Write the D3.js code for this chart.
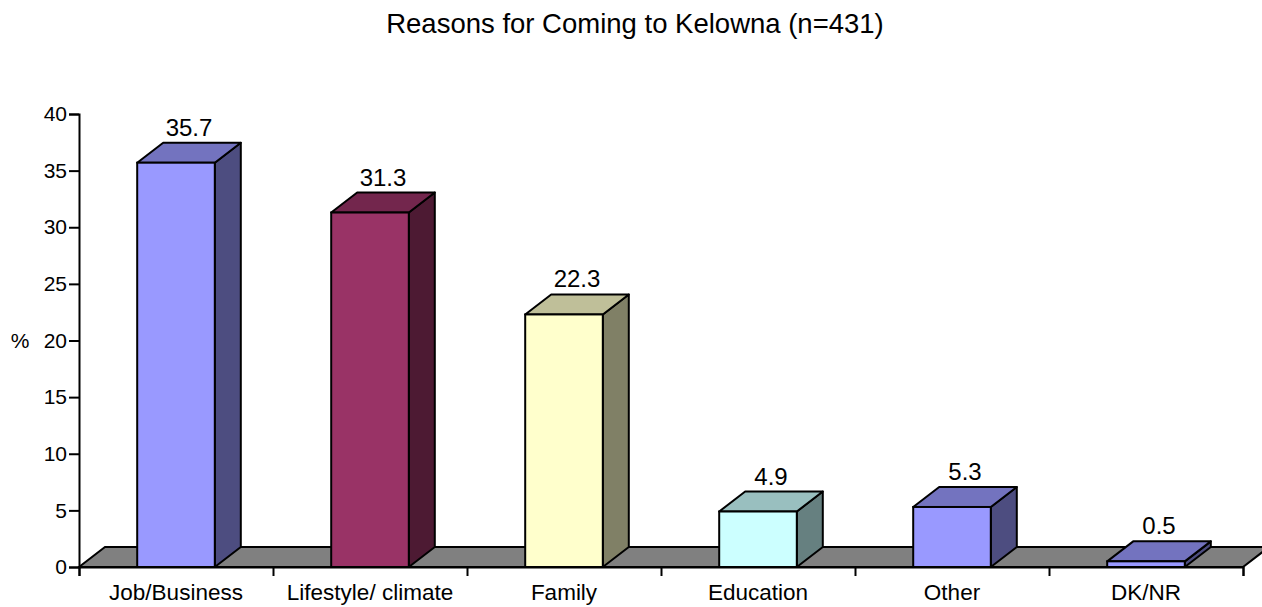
<!DOCTYPE html>
<html>
    <head>
        <script src="https://d3js.org/d3.v7.js"></script>
        <style>
            body{
                margin: 0;
                background: white;
            }
            text{
                font-family: 'Liberation Sans', Arial, sans-serif;
                fill: black;
            }
        </style>
    </head>
    <body>
        <div class='graph'>
            <script>
                const categories = ['Job/Business', 'Lifestyle/ climate', 'Family', 'Education', 'Other', 'DK/NR']
                const values = [35.7, 31.3, 22.3, 4.9, 5.3, 0.5]
                const frontColours = ['#9999FF', '#993366', '#FFFFCC', '#CCFFFF', '#9999FF', '#9999FF']
                const yTicks = [0, 5, 10, 15, 20, 25, 30, 35, 40]

                const w = 1262
                const h = 607
                const plotLeft = 79, plotRight = 1243, plotTop = 114, plotBottom = 567
                const depthX = 26, depthY = -20

                const svg = d3.select('.graph')
                        .append('svg')
                        .attr('width', w)
                        .attr('height', h)

                const x = d3.scaleBand()
                            .domain(categories)
                            .range([plotLeft, plotRight])
                            .paddingInner(0.6)
                            .paddingOuter(0.3)

                const y = d3.scaleLinear()
                            .domain([0, 40])
                            .range([plotBottom, plotTop])

                const shade = (c, k) => {
                    const col = d3.rgb(c)
                    return d3.rgb(col.r * k, col.g * k, col.b * k).formatHex()
                }

                // floor
                svg.append('path')
                    .attr('d', 'M' + plotLeft + ',' + plotBottom + 'L' + (plotLeft + depthX) + ',' + (plotBottom + depthY) +
                               'L' + (plotRight + depthX) + ',' + (plotBottom + depthY) + 'L' + plotRight + ',' + plotBottom + 'Z')
                    .style('fill', '#808080')
                    .style('stroke', 'black')
                    .style('stroke-width', 2)

                const bar = svg.selectAll('.bar')
                                .data(categories)
                                .enter()
                                .append('g')
                                .attr('class', 'bar')

                const bw = x.bandwidth()

                bar.append('path')
                    .attr('d', (d, i) => {
                        const x1 = x(d) + bw, yt = y(values[i])
                        return 'M' + x1 + ',' + plotBottom + 'L' + (x1 + depthX) + ',' + (plotBottom + depthY) +
                               'L' + (x1 + depthX) + ',' + (yt + depthY) + 'L' + x1 + ',' + yt + 'Z'
                    })
                    .style('fill', (d, i) => shade(frontColours[i], 0.5))
                    .style('stroke', 'black')
                    .style('stroke-width', 2)
                    .style('stroke-linejoin', 'round')

                bar.append('path')
                    .attr('d', (d, i) => {
                        const x0 = x(d), yt = y(values[i])
                        return 'M' + x0 + ',' + yt + 'L' + (x0 + depthX) + ',' + (yt + depthY) +
                               'L' + (x0 + bw + depthX) + ',' + (yt + depthY) + 'L' + (x0 + bw) + ',' + yt + 'Z'
                    })
                    .style('fill', (d, i) => shade(frontColours[i], 0.75))
                    .style('stroke', 'black')
                    .style('stroke-width', 2)
                    .style('stroke-linejoin', 'round')

                bar.append('rect')
                    .attr('x', d => x(d))
                    .attr('y', (d, i) => y(values[i]))
                    .attr('width', bw)
                    .attr('height', (d, i) => plotBottom - y(values[i]))
                    .style('fill', (d, i) => frontColours[i])
                    .style('stroke', 'black')
                    .style('stroke-width', 2)

                bar.append('text')
                    .attr('x', d => x(d) + bw / 2 + depthX / 2)
                    .attr('y', (d, i) => y(values[i]) + depthY - 7)
                    .attr('text-anchor', 'middle')
                    .style('font-size', '24px')
                    .text((d, i) => values[i].toFixed(1))

                // axes
                const yAxis = svg.append('g')
                    .attr('transform', 'translate(' + plotLeft + ',0)')
                    .call(d3.axisLeft(y).tickValues(yTicks).tickSize(10).tickPadding(2))
                yAxis.selectAll('text').style('font-size', '21px').attr('font-family', null)

                const xb = d3.scaleLinear().domain([0, categories.length]).range([plotLeft, plotRight])
                svg.append('g')
                    .attr('transform', 'translate(0,' + plotBottom + ')')
                    .call(d3.axisBottom(xb).ticks(categories.length).tickSize(9).tickFormat(''))

                svg.selectAll('.domain').style('stroke-width', 2)
                svg.selectAll('.tick line').style('stroke-width', 2)

                svg.append('g')
                    .selectAll('text')
                    .data(categories)
                    .enter()
                    .append('text')
                    .attr('x', d => x(d) + bw / 2)
                    .attr('y', 600)
                    .attr('text-anchor', 'middle')
                    .style('font-size', '22.5px')
                    .text(d => d)

                svg.append('text')
                    .attr('x', 20)
                    .attr('y', 348)
                    .attr('text-anchor', 'middle')
                    .style('font-size', '21px')
                    .text('%')

                svg.append('text')
                    .attr('x', 635)
                    .attr('y', 33)
                    .attr('text-anchor', 'middle')
                    .style('font-size', '27.5px')
                    .text('Reasons for Coming to Kelowna (n=431)')
            </script>
        </div>
    </body>
</html>
